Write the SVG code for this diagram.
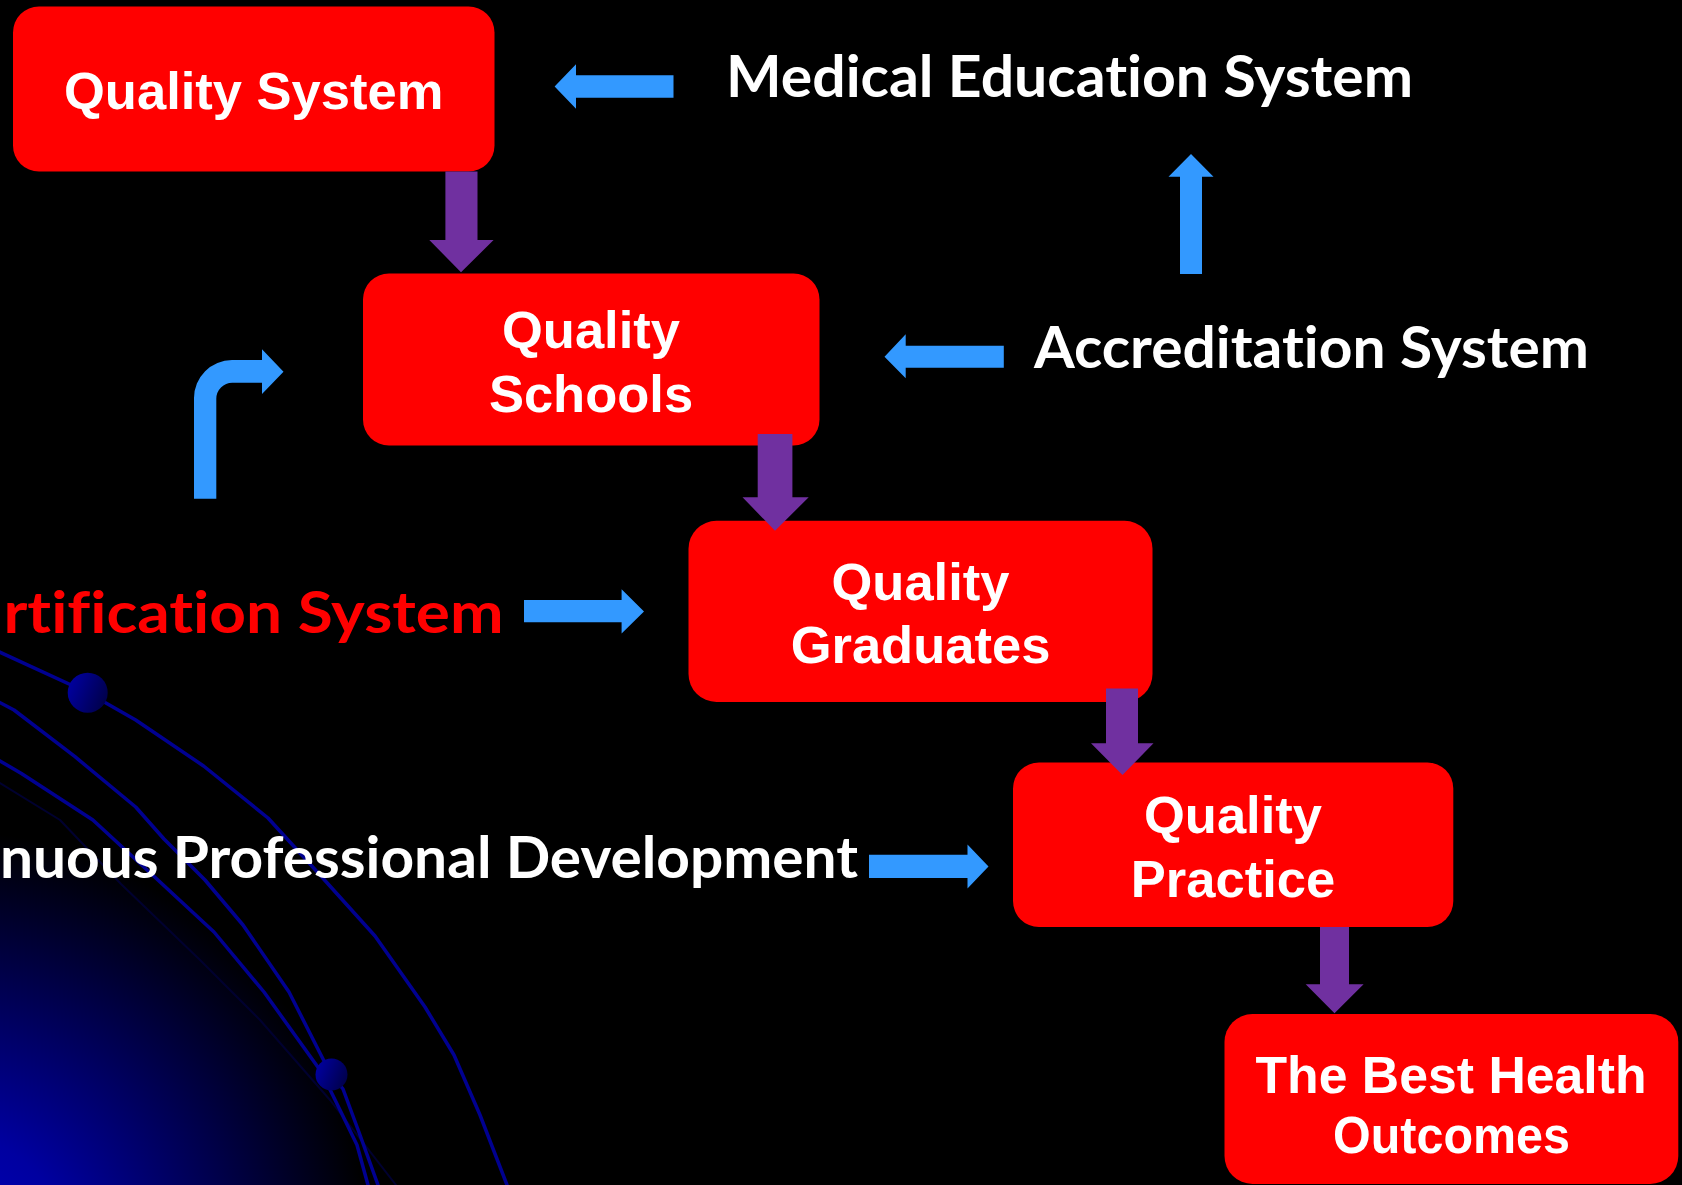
<svg xmlns="http://www.w3.org/2000/svg" width="1682" height="1185" viewBox="0 0 1682 1185">
<defs>
<radialGradient id="glow" cx="-60" cy="1260" r="430" gradientUnits="userSpaceOnUse">
<stop offset="0" stop-color="#0000c0"/>
<stop offset="0.3" stop-color="#0000a0"/>
<stop offset="0.65" stop-color="#000050"/>
<stop offset="1" stop-color="#000000"/>
</radialGradient>
<linearGradient id="dotg" x1="0" y1="0.3" x2="1" y2="0.7">
<stop offset="0" stop-color="#0000a0"/>
<stop offset="1" stop-color="#000048"/>
</linearGradient>
<style>
.box{fill:#ff0000;}
.bt{font-family:"Liberation Sans",Arial,sans-serif;font-weight:bold;font-size:52.5px;fill:#ffffff;text-anchor:middle;}
.lbl{font-family:Lato,"Open Sans",sans-serif;font-weight:bold;font-size:57px;fill:#ffffff;font-variant-ligatures:none;}
.red{fill:#ff0000;}
.blue{fill:#3399ff;}
.purple{fill:#7030a0;}
.orbit{fill:none;stroke:#000090;stroke-width:3.5;stroke-linejoin:round;stroke-linecap:round;}
</style>
</defs>
<rect x="0" y="0" width="1682" height="1185" fill="#000000"/>
<g id="background">
<circle cx="-60" cy="1260" r="430" fill="url(#glow)"/>
<polyline class="orbit" style="stroke:#000030;stroke-width:2" points="0,783 60,820 121,884 200,960 260,1020 330,1100 396,1185"/>
<polyline class="orbit" points="-5,650 87.5,692.5 135.7,720 203.6,766 268,818 320,875 375,936 425,1007 454,1055 480,1115 507,1185"/>
<polyline class="orbit" points="-5,700 14,710 75,756.7 135.7,807 164,839 205,880 243,925 289,992 323,1059 331,1074 343,1089 360,1135 378,1185"/>
<polyline class="orbit" points="-5,758 21.4,773.5 92.9,820 153.6,876 214,932 264,992 321.4,1072 340,1110 357,1145 368,1185"/>
<circle cx="87.7" cy="692.7" r="20" fill="url(#dotg)"/>
<circle cx="331.5" cy="1074.5" r="16" fill="url(#dotg)"/>
</g>
<g id="node-quality-system">
<rect class="box" x="13" y="6.5" width="481.5" height="165" rx="26"/>
<text class="bt" x="253.7" y="109">Quality System</text>
</g>
<g id="node-quality-schools">
<rect class="box" x="363" y="273.5" width="456.5" height="172" rx="26"/>
<text class="bt" x="591" y="347.7">Quality</text>
<text class="bt" x="591" y="411.7">Schools</text>
</g>
<g id="node-quality-graduates">
<rect class="box" x="688.5" y="520.8" width="464" height="181.2" rx="28"/>
<text class="bt" x="920.5" y="599.5">Quality</text>
<text class="bt" x="920.5" y="663">Graduates</text>
</g>
<g id="node-quality-practice">
<rect class="box" x="1013" y="762.5" width="440.3" height="164.5" rx="26"/>
<text class="bt" x="1233" y="832.7">Quality</text>
<text class="bt" x="1233" y="896.7">Practice</text>
</g>
<g id="node-best-health">
<rect class="box" x="1224.5" y="1014" width="453.8" height="170" rx="28"/>
<text class="bt" x="1451" y="1092.7" textLength="391" lengthAdjust="spacingAndGlyphs">The Best Health</text>
<text class="bt" x="1451.5" y="1152.5" textLength="237" lengthAdjust="spacingAndGlyphs">Outcomes</text>
</g>
<g id="node-medical-education">
<text class="lbl" x="726" y="97" textLength="687" lengthAdjust="spacingAndGlyphs">Medical Education System</text>
</g>
<g id="node-accreditation">
<text class="lbl" x="1034" y="368" textLength="555" lengthAdjust="spacingAndGlyphs">Accreditation System</text>
</g>
<g id="node-certification">
<text class="lbl red" x="3.5" y="633.3" textLength="500" lengthAdjust="spacingAndGlyphs">rtification System</text>
</g>
<g id="node-cpd">
<text class="lbl" x="0" y="878" textLength="858" lengthAdjust="spacingAndGlyphs">nuous Professional Development</text>
</g>
<g id="connectors">
<polygon class="blue" points="554.6,86.5 576,64.3 576,75.3 673.5,75.3 673.5,97.7 576,97.7 576,108.7"/>
<polygon class="blue" points="1191,154 1213.5,176.7 1202,176.7 1202,274 1180,274 1180,176.7 1168.5,176.7"/>
<polygon class="blue" points="884.5,356.7 905.7,334.3 905.7,345.7 1003.8,345.7 1003.8,367.7 905.7,367.7 905.7,378.3"/>
<polygon class="blue" points="644,611.5 621.6,589.3 621.6,600 524,600 524,622.3 621.6,622.3 621.6,633.5"/>
<polygon class="blue" points="988.5,866.6 967.5,844.5 967.5,854.8 869,854.8 869,878 967.5,878 967.5,888.5"/>
<path class="blue" d="M194,498.7 L194,398 A38,38 0 0 1 232,360 L262,360 L262,349.3 L283.5,371.7 L262,394 L262,382.7 L232.3,382.7 A16,16 0 0 0 216.3,398.7 L216.3,498.7 Z"/>
<polygon class="purple" points="445.4,171.5 477.5,171.5 477.5,240 493.6,240 461,272.3 429.3,240 445.4,240"/>
<polygon class="purple" points="757.7,434 792.4,434 792.4,497.3 808.7,497.3 775,530.7 742.5,497.3 757.7,497.3"/>
<polygon class="purple" points="1106,688.5 1138,688.5 1138,743.3 1153.5,743.3 1122.5,775 1091,743.3 1106,743.3"/>
<polygon class="purple" points="1320,927 1349,927 1349,984.3 1363.6,984.3 1334.5,1013.3 1305.7,984.3 1320,984.3"/>
</g>
</svg>
